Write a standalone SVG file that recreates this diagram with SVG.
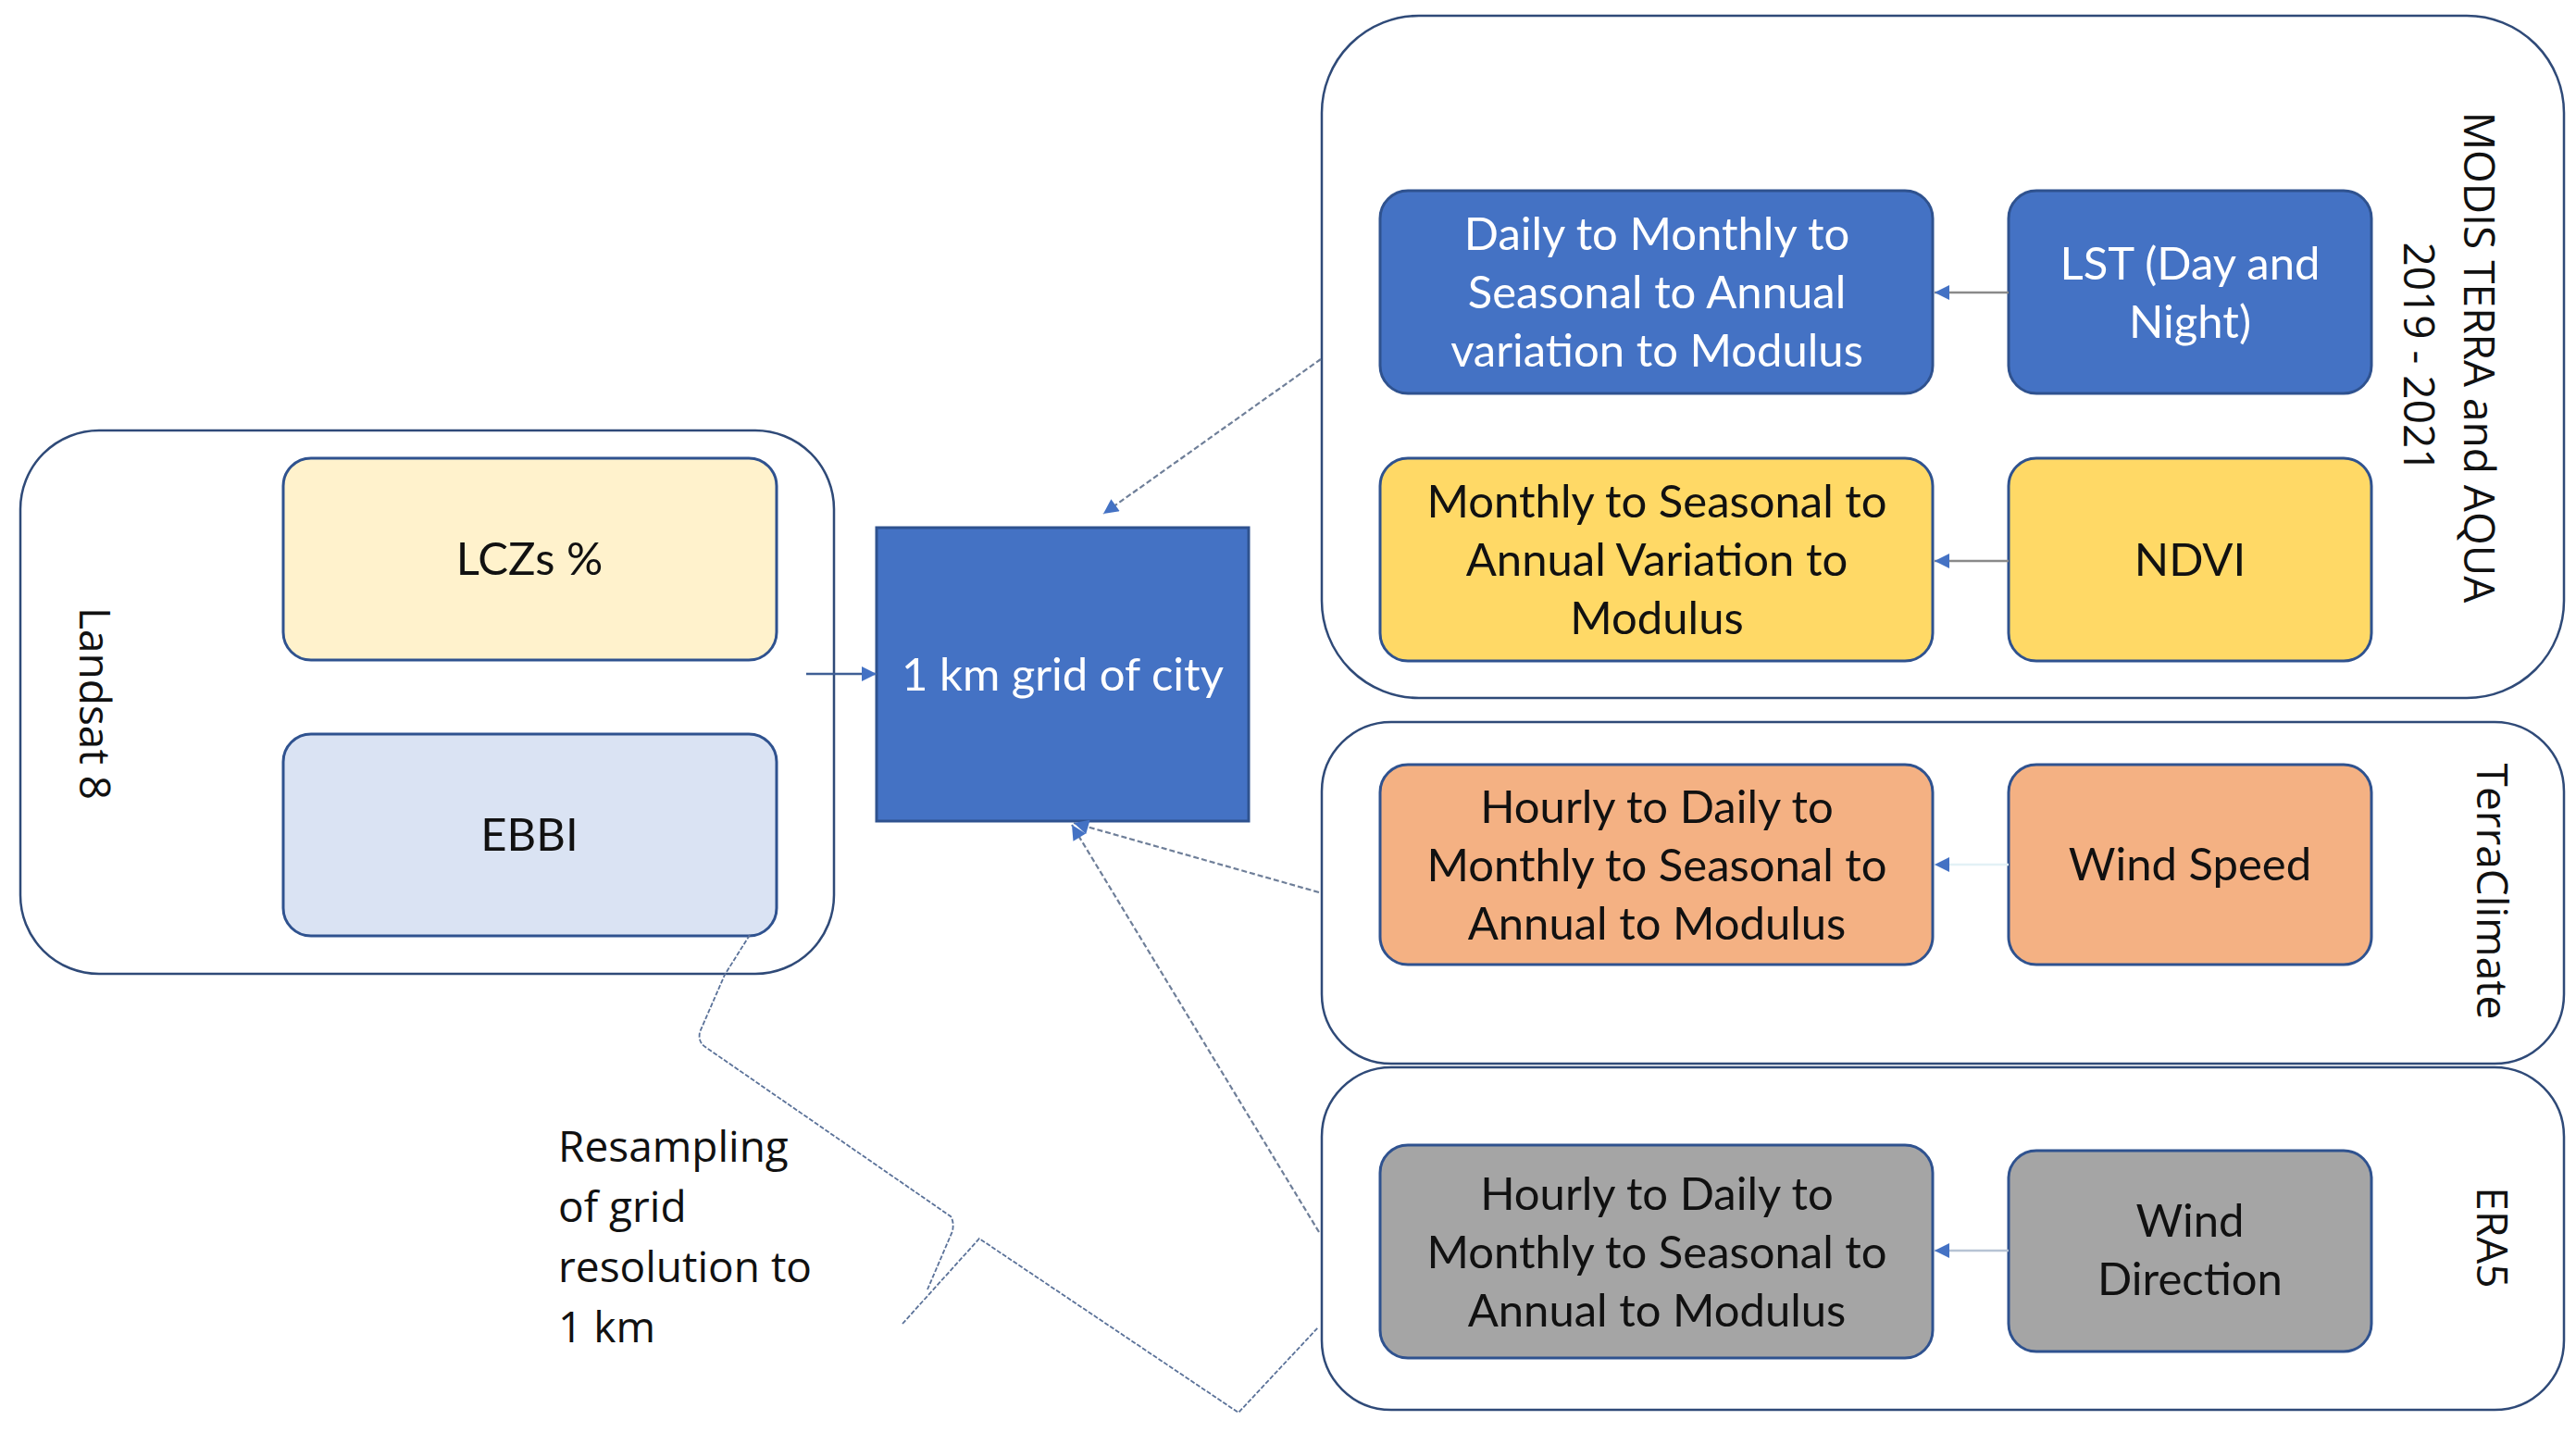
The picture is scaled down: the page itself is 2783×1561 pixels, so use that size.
<svg xmlns="http://www.w3.org/2000/svg" width="2783" height="1561" viewBox="0 0 2783 1561">
<defs>
<style>
.group{fill:#ffffff;stroke:#2F4A78;stroke-width:2.5}
.box{stroke:#2F528F;stroke-width:3}
.blue{fill:#4472C4}
.yellow{fill:#FFD966}
.orange{fill:#F4B183}
.gray{fill:#A5A5A5}
.cream{fill:#FFF2CC}
.pale{fill:#DAE3F3}
.t{font-family:Lato,"Liberation Sans",sans-serif;font-size:49px;text-anchor:middle;fill:#111111}
.tw{fill:#ffffff}
.lab{font-family:"Open Sans","Liberation Sans",sans-serif;font-size:46px;fill:#111111}
.dash{fill:none;stroke:#6F7F99;stroke-width:2.2;stroke-dasharray:6 3}
.solid{fill:none;stroke-width:2.5}
.brace{fill:none;stroke:#5B7299;stroke-width:1.8;stroke-dasharray:5 2}
</style>
<marker id="ah" viewBox="0 0 10 10" refX="10" refY="5" markerWidth="18" markerHeight="16" markerUnits="userSpaceOnUse" orient="auto">
<path d="M0,0 L10,5 L0,10 z" fill="#4472C4"/>
</marker>
</defs>
<rect width="2783" height="1561" fill="#ffffff"/>

<g id="landsat">
<rect class="group" x="22" y="465" width="879" height="587" rx="85" ry="85"/>
<text class="lab" font-size="45" transform="translate(86,760) rotate(90)" text-anchor="middle" y="0">Landsat 8</text>
</g>
<g id="lczs">
<rect class="box cream" x="306" y="495" width="533" height="218" rx="30"/>
<text class="t" x="572" y="621">LCZs %</text>
</g>
<g id="ebbi">
<rect class="box pale" x="306" y="793" width="533" height="218" rx="30"/>
<text class="t" x="572" y="919">EBBI</text>
</g>

<g id="grid">
<rect class="box blue" x="947" y="570" width="402" height="317"/>
<text class="t tw" x="1148" y="746" font-size="50">1 km grid of city</text>
</g>

<g id="modis">
<rect class="group" x="1428" y="17" width="1342" height="737" rx="105" ry="105"/>
<text class="lab" transform="translate(2662,386) rotate(90)" text-anchor="middle"><tspan x="0" y="0">MODIS TERRA and AQUA</tspan><tspan x="0" y="65">2019 - 2021</tspan></text>
</g>
<g id="daily">
<rect class="box blue" x="1491" y="206" width="597" height="219" rx="30"/>
<text class="t tw"><tspan x="1790" y="270">Daily to Monthly to</tspan><tspan x="1790" y="333">Seasonal to Annual</tspan><tspan x="1790" y="396">variation to Modulus</tspan></text>
</g>
<g id="lst">
<rect class="box blue" x="2170" y="206" width="392" height="219" rx="30"/>
<text class="t tw"><tspan x="2366" y="302">LST (Day and</tspan><tspan x="2366" y="365">Night)</tspan></text>
</g>
<g id="monthly">
<rect class="box yellow" x="1491" y="495" width="597" height="219" rx="30"/>
<text class="t"><tspan x="1790" y="559">Monthly to Seasonal to</tspan><tspan x="1790" y="622">Annual Variation to</tspan><tspan x="1790" y="685">Modulus</tspan></text>
</g>
<g id="ndvi">
<rect class="box yellow" x="2170" y="495" width="392" height="219" rx="30"/>
<text class="t" x="2366" y="622">NDVI</text>
</g>

<g id="terraclimate">
<rect class="group" x="1428" y="780" width="1342" height="369" rx="75" ry="75"/>
<text class="lab" transform="translate(2676,963) rotate(90)" text-anchor="middle" y="0">TerraClimate</text>
</g>
<g id="hourly1">
<rect class="box orange" x="1491" y="826" width="597" height="216" rx="30"/>
<text class="t"><tspan x="1790" y="889">Hourly to Daily to</tspan><tspan x="1790" y="952">Monthly to Seasonal to</tspan><tspan x="1790" y="1015">Annual to Modulus</tspan></text>
</g>
<g id="windspeed">
<rect class="box orange" x="2170" y="826" width="392" height="216" rx="30"/>
<text class="t" x="2366" y="951">Wind Speed</text>
</g>

<g id="era5">
<rect class="group" x="1428" y="1153" width="1342" height="370" rx="75" ry="75"/>
<text class="lab" transform="translate(2676,1337) rotate(90)" text-anchor="middle" y="0">ERA5</text>
</g>
<g id="hourly2">
<rect class="box gray" x="1491" y="1237" width="597" height="230" rx="30"/>
<text class="t"><tspan x="1790" y="1307">Hourly to Daily to</tspan><tspan x="1790" y="1370">Monthly to Seasonal to</tspan><tspan x="1790" y="1433">Annual to Modulus</tspan></text>
</g>
<g id="winddir">
<rect class="box gray" x="2170" y="1243" width="392" height="217" rx="30"/>
<text class="t"><tspan x="2366" y="1336">Wind</tspan><tspan x="2366" y="1399">Direction</tspan></text>
</g>

<g id="resampling">
<text class="lab"><tspan x="603" y="1255">Resampling</tspan><tspan x="603" y="1320">of grid</tspan><tspan x="603" y="1385">resolution to</tspan><tspan x="603" y="1450">1 km</tspan></text>
</g>

<g id="connectors">
<path class="solid" stroke="#3F5F95" d="M871,728 L947,728" marker-end="url(#ah)"/>
<path class="dash" d="M1427,388 L1192,555" marker-end="url(#ah)"/>
<path class="dash" d="M1425,964 L1160,889" marker-end="url(#ah)"/>
<path class="dash" d="M1425,1331 L1158,891" marker-end="url(#ah)"/>
<path class="solid" stroke="#8A8A8A" d="M2170,316 L2090,316" marker-end="url(#ah)"/>
<path class="solid" stroke="#8A8A8A" d="M2170,606 L2090,606" marker-end="url(#ah)"/>
<path class="solid" stroke="#E3F1F6" d="M2170,934 L2090,934" marker-end="url(#ah)"/>
<path class="solid" stroke="#B7C4D4" d="M2170,1351 L2090,1351" marker-end="url(#ah)"/>
<path class="brace" d="M810,1010 L783,1053 L756,1115 Q754,1126 762,1131 L1027,1314 Q1031,1320 1029,1330 L1002,1393"/>
<path class="brace" d="M975,1430 L1058,1338 L1338,1526 L1424,1434"/>
</g>
</svg>
